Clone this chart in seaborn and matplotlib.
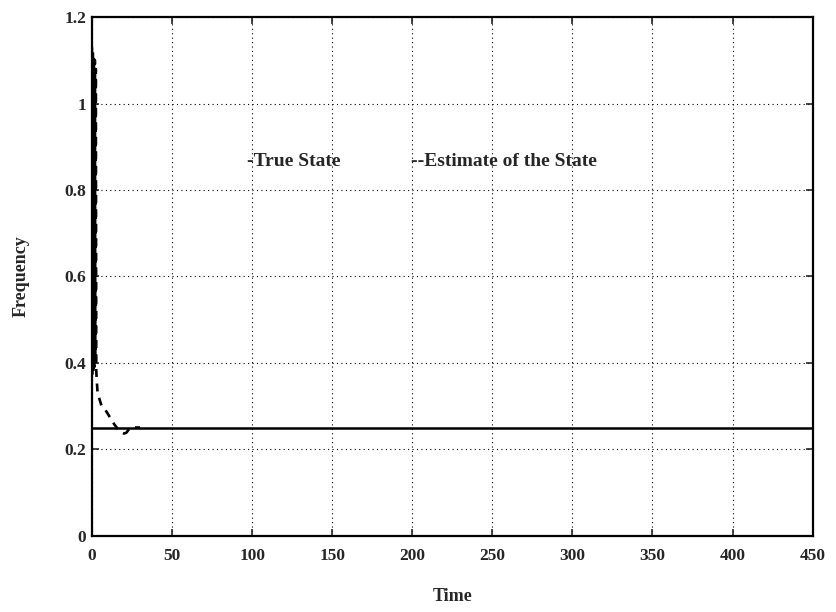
import matplotlib
matplotlib.use("Agg")
import matplotlib.pyplot as plt
import seaborn as sns
import pandas as pd

# True state of the frequency (constant)
true_time = [0, 450]
true_value = [0.25, 0.25]

# Estimated frequency: rapid oscillation at start, then settling onto the true value
est_time = [0.0, 0.3, 0.6, 0.9, 1.2, 1.5, 1.8, 2.1, 2.4, 2.7, 3.0,
            3.5, 6.0, 8.5, 11.0, 14.0, 16.5, 18.5, 20.0, 21.5, 23.5, 26.0,
            30.0]
est_value = [1.13, 0.37, 1.12, 0.38, 1.11, 0.39, 1.10, 0.40, 1.08, 0.38, 0.36,
             0.33, 0.30, 0.29, 0.275, 0.257, 0.245, 0.238, 0.236, 0.238, 0.248, 0.25,
             0.25]

x_ticks = [0, 50, 100, 150, 200, 250, 300, 350, 400, 450]
y_ticks = [0, 0.2, 0.4, 0.6, 0.8, 1.0, 1.2]
y_tick_labels = ["0", "0.2", "0.4", "0.6", "0.8", "1", "1.2"]

sns.set_style("ticks")
plt.rcParams["font.family"] = ["Liberation Serif", "DejaVu Serif"]

true_df = pd.DataFrame({"Time": true_time, "Frequency": true_value})
est_df = pd.DataFrame({"Time": est_time, "Frequency": est_value})

fig = plt.figure(figsize=(8.36, 6.12), dpi=100)
ax = fig.add_axes([0.110, 0.125, 0.862, 0.847])

sns.lineplot(data=est_df, x="Time", y="Frequency", ax=ax, color="black",
             linewidth=1.9, linestyle=(0, (3, 2.5)), sort=False, estimator=None)
sns.lineplot(data=true_df, x="Time", y="Frequency", ax=ax, color="black",
             linewidth=1.8, sort=False, estimator=None)

ax.set_xlim(0, 450)
ax.set_ylim(0, 1.2)
ax.set_xticks(x_ticks)
ax.set_xticklabels([str(t) for t in x_ticks])
ax.set_yticks(y_ticks)
ax.set_yticklabels(y_tick_labels)

ax.grid(True, color="black", linestyle=(0, (1, 3)), linewidth=0.8)
ax.tick_params(direction="in", length=5, width=1.2, top=True, right=True,
               labelsize=12.5, pad=4)
ax.tick_params(axis="x", pad=9)
for lbl in ax.get_xticklabels() + ax.get_yticklabels():
    lbl.set_fontweight("bold")
for spine in ax.spines.values():
    spine.set_linewidth(1.6)
    spine.set_color("black")

ax.set_xlabel("Time", fontsize=13, labelpad=17, fontweight="bold")
ax.set_ylabel("Frequency", fontsize=13, labelpad=25, fontweight="bold")

ax.text(97, 0.865, "-True State", fontsize=14, va="center", ha="left",
        fontweight="bold")
ax.text(199, 0.865, "--Estimate of the State", fontsize=14, va="center",
        ha="left", fontweight="bold")

fig.savefig("out.png", dpi=100)
